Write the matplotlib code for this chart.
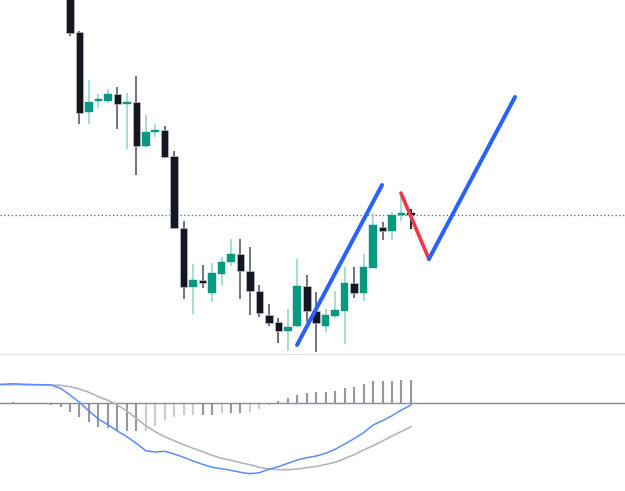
import matplotlib
matplotlib.use("Agg")
import matplotlib.pyplot as plt
import numpy as np

# ---- price data (candles, index 0..36) ----
opens  = [540, 468, 388, 399, 399, 406, 396, 398, 354, 368, 370, 344, 272, 213, 220, 207, 226, 238,
          246, 229, 209, 185, 178, 169, 174, 214, 189, 174, 184, 189, 217, 207, 232, 273, 269, 285, 285.5]
highs  = [550, 469, 420, 406, 411, 413, 407, 424, 385, 376, 374, 349, 279, 236, 235, 237, 243, 261,
          261, 253, 215, 196, 182, 191, 241, 225, 208, 191, 209, 233, 233, 246, 287, 278, 288, 307, 291]
lows   = [464, 376, 376, 392, 397, 371, 351, 325, 352, 363, 342, 271, 201, 186, 212, 198, 214, 234,
          201, 185, 183, 174, 157, 149, 173, 178, 148, 168, 182, 156, 202, 199, 232, 260, 260, 279, 271]
closes = [467, 387, 398, 400, 406, 396, 397, 354, 368, 370, 343, 272, 213, 220, 217, 227, 238, 246,
          229, 209, 187, 177, 169, 173, 214, 189, 177, 185, 190, 217, 207, 233, 275, 269, 285, 286, 285]
last_price = 285

# drawn trend lines (bar index, price)
blue1_x, blue1_y = [23.97, 32.95], [155, 315]
red_x, red_y = [34.95, 37.9], [307, 241]
blue2_x, blue2_y = [37.9, 46.99], [241, 403]

# ---- indicator data (index -8..36) ----
ind_start = -8
macd = [18.7, 18.7, 19.3, 18.7, 18.5, 18.3, 18, 14.7, 8, 0.7, -8, -16, -21.7, -28, -33.7, -40.3, -47.7,
        -49, -48.3, -51, -54.3, -58, -61.3, -64.3, -65.7, -67.3, -69.3, -70.7, -69.7, -66.3, -63.7,
        -60.3, -57, -54.7, -53, -50.3, -46.3, -41, -35.7, -29.7, -22, -17.7, -12.7, -7, -2]
signal = [18.3, 18.3, 18.3, 18.3, 18.2, 18.1, 18, 17.7, 16.3, 14, 10.7, 6.3, 2.7, -2, -8, -15.3, -22.7,
          -28.7, -33.7, -37.7, -41.7, -45.3, -48.7, -52.3, -55.3, -57.3, -59.7, -61.7, -64.3, -66,
          -66.7, -66.7, -66, -64.7, -63.5, -61.5, -59.3, -55.5, -51.7, -47, -42.7, -38, -33, -28.5, -23.7]
hist = [0, 0, 1, 0, 0, 0, -2.3, -4.3, -8.7, -14.3, -18.7, -24, -25.3, -27.7, -27.7, -28.3, -28,
        -23.3, -16.7, -14.3, -12.3, -11.7, -11.7, -11.7, -10, -10, -10, -9, -5.7, -1.7, 1.7, 5, 7.7,
        10, 10.7, 11.3, 12.3, 14.7, 16.3, 19.3, 21.7, 21.7, 21.7, 22.7, 22.7]

UP = "#089981"
UP_WICK = "#8fd3c5"
DOWN = "#131722"
DOWN_WICK = "#4a4e59"

W, H = 625, 491
fig = plt.figure(figsize=(W / 100, H / 100), dpi=100)
sep = 354
ax = fig.add_axes([0, 1 - sep / H, 1, sep / H])
ax2 = fig.add_axes([0, 0, 1, (H - sep) / H])

xlim = (-70 / 9.47, (W - 70) / 9.47)

# candles
x = np.arange(len(opens))
o = np.array(opens, float); c = np.array(closes, float)
hi = np.array(highs, float); lo = np.array(lows, float)
up = c >= o
bottoms = np.minimum(o, c)
heights = np.maximum(np.abs(c - o), 1.6)
doji = np.abs(c - o) < 1.5
ax.vlines(x[up], lo[up], hi[up], color=UP_WICK, lw=1.1, zorder=2)
ax.vlines(x[~up & ~doji], lo[~up & ~doji], hi[~up & ~doji], color=DOWN_WICK, lw=1.1, zorder=2)
ax.vlines(x[~up & doji], lo[~up & doji], hi[~up & doji], color=DOWN, lw=1.3, zorder=2)
ax.bar(x[up], heights[up], bottom=bottoms[up], width=0.8, color=UP, edgecolor=UP, lw=0.3, zorder=3)
ax.bar(x[~up & ~doji], heights[~up & ~doji], bottom=bottoms[~up & ~doji], width=0.8, color=DOWN,
       edgecolor="#c8cad0", lw=0.4, zorder=3)
ax.bar(x[~up & doji], heights[~up & doji], bottom=bottoms[~up & doji], width=0.8, color=DOWN,
       edgecolor=DOWN, lw=0.3, zorder=3)

ax.axhline(last_price, color="#5d606b", lw=0.9, ls=(0, (1, 2)), zorder=1)

ax.plot(blue1_x, blue1_y, color="#2962ff", lw=2.9, solid_capstyle="round", zorder=5)
ax.plot(red_x, red_y, color="#f23645", lw=2.6, solid_capstyle="round", zorder=5)
ax.plot(blue2_x, blue2_y, color="#2962ff", lw=2.9, solid_capstyle="round", zorder=5)

ax.set_xlim(*xlim)
ax.set_ylim(500 - sep, 500)
ax.axis("off")

# indicator
xi = np.arange(ind_start, ind_start + len(macd))
hv = np.array(hist, float)
prev = np.concatenate([[0], hv[:-1]])
dark = np.abs(hv) >= np.abs(prev)
cols = np.where(dark, "#9598a1", "#c9cbd1")
ax2.vlines(xi, 0, hv, colors=cols, lw=1.5, zorder=2)
ax2.axhline(0, color="#8a8d96", lw=1.0, zorder=3)
ax2.plot(xi, signal, color="#b2b5be", lw=1.2, zorder=4)
ax2.plot(xi, macd, color="#5b8cff", lw=1.1, zorder=5)
ax2.set_xlim(*xlim)
ax2.set_ylim(403 - H, 403 - sep)
for s in ["left", "right", "bottom"]:
    ax2.spines[s].set_visible(False)
ax2.spines["top"].set_color("#e0e3eb")
ax2.spines["top"].set_linewidth(1.0)
ax2.set_xticks([]); ax2.set_yticks([])
ax2.patch.set_alpha(0)

fig.savefig("out.png", dpi=100, facecolor="white")
